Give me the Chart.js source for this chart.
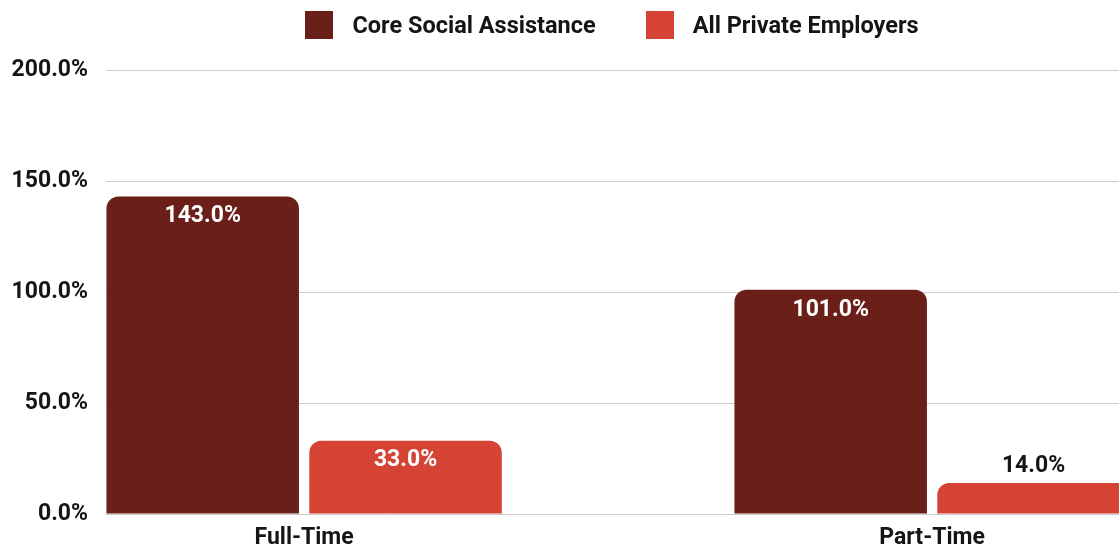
<!DOCTYPE html>
<html>
<head>
<meta charset="utf-8">
<script src="https://cdn.jsdelivr.net/npm/chart.js@4.4.1/dist/chart.umd.min.js"></script>
<style>
  html, body { margin: 0; padding: 0; background: #fff; }
  #wrap { position: relative; width: 1119px; height: 548px; overflow: hidden; }
  #stage { position: absolute; left: 0; top: 0; width: 1224px; height: 548px; }
  #legend {
    position: absolute; left: 0; top: 11px; width: 1224px;
    display: flex; justify-content: center;
    font: bold 23.5px Roboto, sans-serif; color: #151515;
  }
  .item { display: flex; align-items: center; height: 28px; }
  .item + .item { margin-left: 50px; }
  .swatch { width: 28px; height: 28px; margin-right: 19px; }
</style>
</head>
<body>
<div id="wrap">
  <div id="stage">
    <canvas id="chart" width="1224" height="548"></canvas>
    <div id="legend"></div>
  </div>
</div>
<script>
// ── Data ─────────────────────────────────────────
const categories    = ['Full-Time', 'Part-Time'];
const seriesNames   = ['Core Social Assistance', 'All Private Employers'];
const coreValues    = [143.0, 101.0];
const privateValues = [33.0, 14.0];
const yTicks        = [0, 50, 100, 150, 200];

const colors = ['#6a1f19', '#d44333'];

// ── Legend (html) ────────────────────────────────
document.getElementById('legend').innerHTML = seriesNames.map((n, i) => `
  <div class="item"><span class="swatch" style="background:${colors[i]}"></span>${n}</div>
`).join('');

// ── Value labels on the bars ─────────────────────
const barLabels = {
  id: 'barLabels',
  afterDatasetsDraw(chart) {
    const ctx = chart.ctx;
    ctx.save();
    ctx.font = 'bold 23px Roboto';
    ctx.textAlign = 'center';
    ctx.textBaseline = 'middle';
    chart.data.datasets.forEach((ds, di) => {
      chart.getDatasetMeta(di).data.forEach((bar, i) => {
        const v = ds.data[i].y;
        // short bars get the label above, in dark text
        const inside = (bar.base - bar.y) > 50;
        ctx.fillStyle = inside ? '#ffffff' : '#151515';
        ctx.fillText(v.toFixed(1) + '%', bar.x, inside ? bar.y + 20 : bar.y - 17);
      });
    });
    ctx.restore();
  }
};

const toPoints = vals => vals.map((v, i) => ({ x: i, y: v }));

// ── Chart ────────────────────────────────────────
new Chart(document.getElementById('chart'), {
  type: 'bar',
  data: {
    datasets: [
      { label: seriesNames[0], data: toPoints(coreValues),    backgroundColor: colors[0], borderRadius: 12 },
      { label: seriesNames[1], data: toPoints(privateValues), backgroundColor: colors[1], borderRadius: 12 },
    ],
  },
  options: {
    responsive: false,
    animation: false,
    categoryPercentage: 0.646,
    barPercentage: 0.949,
    layout: { padding: { top: 70, right: 0, bottom: 0, left: 0 } },
    plugins: { legend: { display: false }, tooltip: { enabled: false } },
    scales: {
      x: {
        type: 'linear',
        offset: false,
        bounds: 'data',
        min: -0.3155,
        max: 1.4648,
        afterBuildTicks: s => { s.ticks = categories.map((_, i) => ({ value: i })); },
        afterFit: s => { s.height = 34; },
        grid: { display: false, drawTicks: false, offset: false },
        border: { display: false },
        ticks: {
          callback: v => categories[v],
          font: { family: 'Roboto', size: 23, weight: 'bold' },
          color: '#151515',
          padding: 10,
          maxRotation: 0,
          autoSkip: false,
        },
      },
      y: {
        min: 0,
        max: 200,
        afterBuildTicks: s => { s.ticks = yTicks.map(v => ({ value: v })); },
        afterFit: s => { s.width = 106; },
        grid: { color: '#cccccc', lineWidth: 1, drawTicks: false },
        border: { display: false },
        ticks: {
          callback: v => v.toFixed(1) + '%',
          font: { family: 'Roboto', size: 23, weight: 'bold' },
          color: '#151515',
          padding: 18,
        },
      },
    },
  },
  plugins: [barLabels],
});
</script>
</body>
</html>
